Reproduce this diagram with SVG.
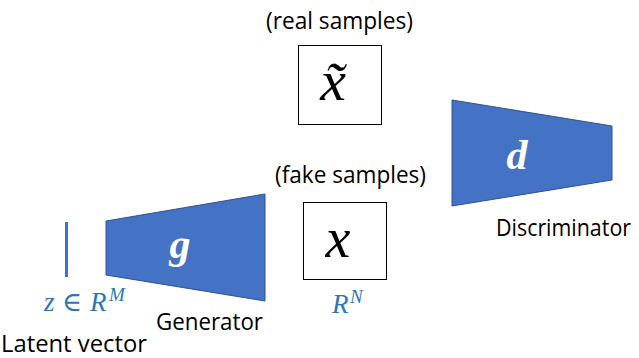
<svg xmlns="http://www.w3.org/2000/svg" width="639" height="358" viewBox="0 0 639 358">
<style>
.lbl{font-family:"Open Sans","Noto Sans","Liberation Sans",sans-serif;font-size:24px;fill:#000}
.net{fill:#4472C4;stroke:#2F528F;stroke-width:1}
.sym{font-family:"Liberation Serif","DejaVu Serif",serif;font-style:italic;font-weight:bold;fill:#fff;font-size:42px}
.mth{font-family:"Liberation Serif","DejaVu Serif",serif;font-style:italic;fill:#000}
.blu{font-family:"Liberation Serif","DejaVu Serif",serif;font-style:italic;fill:#2E75B6;font-size:27px}
.box{fill:#fff;stroke:#000;stroke-width:1}
</style>
<rect width="639" height="358" fill="#fff"/>
<g id="latent">
<line x1="66.5" y1="222" x2="66.5" y2="277" stroke="#4472C4" stroke-width="3"/>
<text class="blu" y="311"><tspan x="44">z</tspan><tspan x="62" font-style="normal">∈</tspan><tspan x="90">R</tspan><tspan x="109" dy="-10" font-size="19">M</tspan></text>
<text class="lbl" x="1" y="352" textLength="146" lengthAdjust="spacingAndGlyphs">Latent vector</text>
</g>
<g id="generator">
<polygon class="net" points="106,221 265,194 265,301 106,275"/>
<text class="sym" x="180" y="258" text-anchor="middle">g</text>
<text class="lbl" x="156" y="330" textLength="107" lengthAdjust="spacingAndGlyphs">Generator</text>
</g>
<g id="fake">
<text class="lbl" x="275" y="183" textLength="151" lengthAdjust="spacingAndGlyphs">(fake samples)</text>
<rect class="box" x="303.5" y="202.5" width="83" height="77"/>
<text class="mth" x="338" y="257" font-size="56" text-anchor="middle">x</text>
<text class="blu" y="313"><tspan x="332">R</tspan><tspan x="350" dy="-10" font-size="19">N</tspan></text>
</g>
<g id="real">
<text class="lbl" x="266" y="29" textLength="147" lengthAdjust="spacingAndGlyphs">(real samples)</text>
<rect class="box" x="298.5" y="45.5" width="83" height="79"/>
<text class="mth" x="333" y="100" font-size="58" text-anchor="middle">x̃</text>
</g>
<g id="discriminator">
<polygon class="net" points="452,100 612,126 612,180 452,206"/>
<text class="sym" x="517" y="169" text-anchor="middle">d</text>
<text class="lbl" x="496" y="236" font-size="21" textLength="135" lengthAdjust="spacingAndGlyphs">Discriminator</text>
</g>
<g id="connectors"></g>
</svg>
